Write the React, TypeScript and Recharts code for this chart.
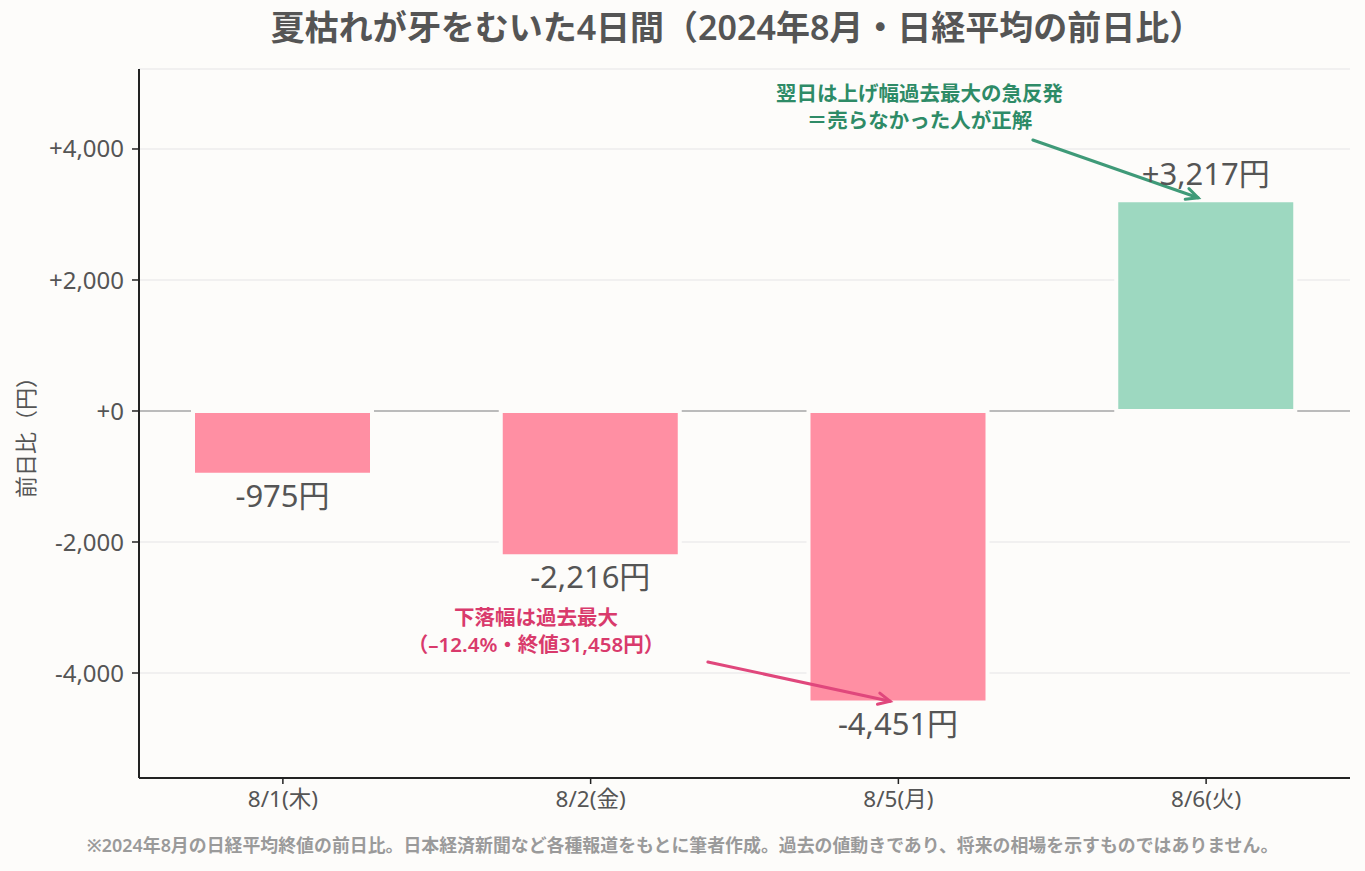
import React from 'react';
import {
  BarChart,
  Bar,
  XAxis,
  YAxis,
  CartesianGrid,
  ReferenceLine,
  ReferenceDot,
  LabelList,
  Cell,
} from 'recharts';

// 2024年8月 日経平均の前日比（円）
const dates = ['8/1(木)', '8/2(金)', '8/5(月)', '8/6(火)'];
const changes = [-975, -2216, -4451, 3217];
const yTicks = [-4000, -2000, 0, 2000, 4000];

const dropNote = ['下落幅は過去最大', '（–12.4%・終値31,458円）'];
const reboundNote = ['翌日は上げ幅過去最大の急反発', '＝売らなかった人が正解'];

const titleText = '夏枯れが牙をむいた4日間（2024年8月・日経平均の前日比）';
const yLabelText = '前日比（円）';
const footText =
  '※2024年8月の日経平均終値の前日比。日本経済新聞など各種報道をもとに筆者作成。過去の値動きであり、将来の相場を示すものではありません。';

// annotation anchors, in data units (x: category index, y: yen)
const dropNoteAt = { x: 0.8225, y: -3145 };
const dropArrow = [
  { x: 1.381, y: -3832 },
  { x: 1.973, y: -4430 },
];
const reboundNoteAt = { x: 2.069, y: 4855 };
const reboundArrow = [
  { x: 2.437, y: 4137 },
  { x: 2.974, y: 3255 },
];

const rows = dates.map((d, i) => ({ date: d, change: changes[i] }));

const BG = '#fdfcfa';
const DOWN = '#ff8fa3';
const UP = '#9dd8c0';
const TEXT = '#555555';
const GREEN_TXT = '#2e8b67';
const GREEN_ARROW = '#3f9a78';
const PINK_TXT = '#d93a6c';
const PINK_ARROW = '#e0477c';
const FONT = "'Noto Sans', 'Noto Sans CJK JP', sans-serif";

const fmtTick = (v: number) => {
  const s = Math.abs(v).toLocaleString('en-US');
  if (v < 0) return '-' + s;
  return '+' + s;
};

const fmtValue = (v: number) => (v > 0 ? '+' : '-') + Math.abs(v).toLocaleString('en-US') + '円';

const ValueLabel = (props: any) => {
  const { x, y, width, height, value } = props;
  const v = Number(value);
  const top = Math.min(y, y + height);
  const bottom = Math.max(y, y + height);
  const cx = x + width / 2;
  const ty = v >= 0 ? top - 15 : bottom + 32;
  return (
    <text x={cx} y={ty} textAnchor="middle" fill={TEXT} fontSize={31} fontFamily={FONT}>
      {fmtValue(v)}
    </text>
  );
};

const makeArrow = (color: string) => (props: any) => {
  const { x1, y1, x2, y2 } = props;
  if ([x1, y1, x2, y2].some((n) => n == null || isNaN(n))) return <g />;
  const ang = Math.atan2(y2 - y1, x2 - x1);
  const L = 13;
  const spread = 0.45;
  const ax = x2 - L * Math.cos(ang - spread);
  const ay = y2 - L * Math.sin(ang - spread);
  const bx = x2 - L * Math.cos(ang + spread);
  const by = y2 - L * Math.sin(ang + spread);
  return (
    <g>
      <line x1={x1} y1={y1} x2={x2} y2={y2} stroke={color} strokeWidth={3} strokeLinecap="round" />
      <polyline
        points={`${ax},${ay} ${x2},${y2} ${bx},${by}`}
        fill="none"
        stroke={color}
        strokeWidth={3}
        strokeLinecap="round"
        strokeLinejoin="miter"
      />
    </g>
  );
};

const makeNote = (lines: string[], color: string) => (props: any) => {
  const { cx, cy } = props;
  return (
    <g>
      {lines.map((t, i) => (
        <text
          key={i}
          x={cx}
          y={cy + i * 27}
          textAnchor="middle"
          dominantBaseline="central"
          fill={color}
          fontSize={20.5}
          fontWeight={600}
          fontFamily={FONT}
        >
          {t}
        </text>
      ))}
    </g>
  );
};

export default function App() {
  return (
    <div
      style={{
        position: 'absolute',
        left: 0,
        top: 0,
        width: 1365,
        height: 871,
        background: BG,
        fontFamily: FONT,
        overflow: 'hidden',
      }}
    >
      <div
        style={{
          position: 'absolute',
          left: 737 - 650,
          width: 1300,
          top: 5,
          textAlign: 'center',
          fontSize: 34,
          fontWeight: 600,
          color: TEXT,
          lineHeight: '44px',
        }}
      >
        {titleText}
      </div>
      <div
        style={{
          position: 'absolute',
          left: 25 - 100,
          top: 432 - 15,
          width: 200,
          height: 30,
          lineHeight: '30px',
          textAlign: 'center',
          fontSize: 22,
          color: TEXT,
          transform: 'rotate(-90deg)',
        }}
      >
        {yLabelText}
      </div>
      <BarChart
        width={1365}
        height={871}
        data={rows}
        margin={{ top: 69, right: 15, bottom: 63, left: 14 }}
        style={{ position: 'absolute', left: 0, top: 0 }}
      >
        <CartesianGrid horizontal vertical={false} stroke="#ececec" strokeWidth={1.5} />
        {/* zero baseline, kept beneath the bars */}
        <CartesianGrid
          horizontal
          vertical={false}
          horizontalValues={[0]}
          stroke="#bbbbbb"
          strokeWidth={2}
        />
        <XAxis
          dataKey="date"
          padding={{ left: -10, right: -10 }}
          height={30}
          tickSize={6}
          tickMargin={7}
          tick={{ fill: TEXT, fontSize: 22.5, fontFamily: FONT }}
          axisLine={{ stroke: '#222', strokeWidth: 2 }}
          tickLine={{ stroke: '#222', strokeWidth: 1.5 }}
        />
        <XAxis
          xAxisId="num"
          type="number"
          dataKey="idx"
          domain={[-0.5, 3.5]}
          padding={{ left: -10, right: -10 }}
          allowDataOverflow
          hide
        />
        <YAxis
          width={125}
          domain={[-5603, 5221]}
          ticks={yTicks}
          allowDataOverflow
          interval={0}
          tickFormatter={fmtTick}
          tickSize={7}
          tickMargin={8}
          tick={{ fill: TEXT, fontSize: 24, fontFamily: FONT }}
          axisLine={{ stroke: '#222', strokeWidth: 2 }}
          tickLine={{ stroke: '#222', strokeWidth: 1.5 }}
        />
        <Bar
          dataKey="change"
          barSize={179}
          stroke={BG}
          strokeWidth={4}
          isAnimationActive={false}
        >
          {rows.map((r, i) => (
            <Cell key={i} fill={r.change < 0 ? DOWN : UP} />
          ))}
          <LabelList dataKey="change" content={ValueLabel} />
        </Bar>
        <ReferenceLine
          xAxisId="num"
          segment={dropArrow}
          shape={makeArrow(PINK_ARROW)}
          ifOverflow="visible"
        />
        <ReferenceLine
          xAxisId="num"
          segment={reboundArrow}
          shape={makeArrow(GREEN_ARROW)}
          ifOverflow="visible"
        />
        <ReferenceDot
          xAxisId="num"
          x={dropNoteAt.x}
          y={dropNoteAt.y}
          r={0}
          ifOverflow="visible"
          shape={makeNote(dropNote, PINK_TXT)}
        />
        <ReferenceDot
          xAxisId="num"
          x={reboundNoteAt.x}
          y={reboundNoteAt.y}
          r={0}
          ifOverflow="visible"
          shape={makeNote(reboundNote, GREEN_TXT)}
        />
      </BarChart>
      <div
        style={{
          position: 'absolute',
          left: 0,
          width: 1365,
          top: 845 - 12,
          textAlign: 'center',
          fontSize: 17.9,
          fontWeight: 600,
          color: '#9a9a9a',
          lineHeight: '24px',
        }}
      >
        {footText}
      </div>
    </div>
  );
}
